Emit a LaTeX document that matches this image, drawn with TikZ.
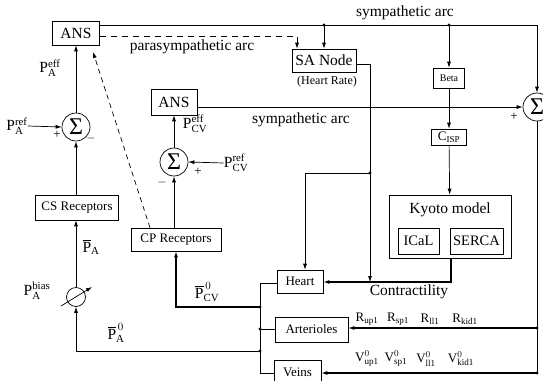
\documentclass[tikz,border=0pt]{standalone}
\usepackage{amsmath}
\usepackage{fontspec}
\setmainfont{Liberation Serif}
\usetikzlibrary{arrows.meta,calc}
\newcommand\rr[1]{\mathrm{#1}}
\newcommand\bigf{\fontsize{15.5}{18}\selectfont}
\newcommand\midf{\fontsize{13}{15}\selectfont}
\newcommand\smf{\fontsize{10}{12}\selectfont}
\tikzset{
  blk/.style={draw, line width=0.6pt, inner sep=0pt},
  sumn/.style={draw, circle, minimum size=28pt, inner sep=0pt, font=\fontsize{24}{24}\selectfont},
  lbl/.style={inner sep=0pt, font=\bigf},
  sgn/.style={inner sep=0pt, font=\midf},
}

\begin{document}
\begin{tikzpicture}[x=1pt, y=-1pt, >={Latex[length=6pt,width=4pt]}, line width=0.7pt]
    \useasboundingbox (0,0) rectangle (543,380);

    \coordinate (Ansp) at (76,33);
    \coordinate (SumAp) at (76,127);
    \coordinate (CSp) at (77,207.5);
    \coordinate (Biasp) at (76,297);
    \coordinate (AnsCp) at (174,102);
    \coordinate (SumCp) at (174,162);
    \coordinate (CPp) at (176,239.5);
    \coordinate (SANp) at (324,60.5);
    \coordinate (Betap) at (449,78);
    \coordinate (Cispp) at (449,137);
    \coordinate (Kyotop) at (450,226.5);
    \coordinate (Kyotot) at (450,210);
    \coordinate (ICaLp) at (418.5,241);
    \coordinate (SERCAp) at (476.5,241);
    \coordinate (SumRp) at (537,107);
    \coordinate (Heartp) at (300,281.5);
    \coordinate (Artp) at (311.5,329.5);
    \coordinate (Veinsp) at (297.5,372.5);

    \coordinate (SymR) at (537,25);
    \coordinate (Para) at (297,36);
    \coordinate (ParaT) at (93,52);
    \coordinate (ParaB) at (150,0);
    \coordinate (SanR) at (370,64);
    \coordinate (HeartJ) at (370,173);
    \coordinate (HeartT) at (305,173);
    \coordinate (Ctr) at (451,282);
    \coordinate (RJa) at (537,328);
    \coordinate (RJv) at (537,373);
    \coordinate (LwT) at (260,283);
    \coordinate (LwB) at (260,373);
    \coordinate (LJcv) at (260,307);
    \coordinate (LJart) at (260,329);
    \coordinate (LJa) at (260,351);

    \coordinate (Symt) at (405,13);
    \coordinate (Symm) at (301,120);
    \coordinate (Parat) at (192,47);
    \coordinate (HRt) at (327,82);
    \coordinate (Ctrt) at (409,292);
    \coordinate (PAeff) at (50,68);
    \coordinate (PAref) at (17,126);
    \coordinate (PAbar) at (91,247);
    \coordinate (PAbias) at (37,291);
    \coordinate (PAz) at (116,333);
    \coordinate (PCVz) at (207,292);
    \coordinate (PCVeff) at (195,124);
    \coordinate (PCVref) at (236,163);
    \coordinate (PlA) at (57,135);
    \coordinate (MiA) at (91,138);
    \coordinate (PlC) at (198,172);
    \coordinate (MiC) at (162,182);
    \coordinate (PlR) at (514,117);

    \node[blk, minimum width=47pt, minimum height=24pt, font=\bigf] (ans) at (Ansp) {ANS};
    \node[blk, minimum width=46pt, minimum height=26pt, font=\bigf] (ansc) at (AnsCp) {ANS};
    \node[blk, minimum width=64pt, minimum height=23pt, font=\bigf] (san) at (SANp) {SA Node};
    \node[blk, minimum width=31pt, minimum height=20pt, font=\smf] (beta) at (Betap) {Beta};
    \node[blk, minimum width=35pt, minimum height=16pt, font=\midf] (cisp) at (Cispp) {$\rr{C}_{\rr{ISP}}$};
    \node[blk, minimum width=122pt, minimum height=63pt] (kyoto) at (Kyotop) {};
    \node[font=\bigf] (kyotol) at (Kyotot) {Kyoto model};
    \node[blk, minimum width=41pt, minimum height=26pt, font=\fontsize{14.5}{16}\selectfont] (ical) at (ICaLp) {ICaL};
    \node[blk, minimum width=53pt, minimum height=26pt, font=\fontsize{14.5}{16}\selectfont] (serca) at (SERCAp) {SERCA};
    \node[blk, minimum width=83pt, minimum height=25pt, font=\midf] (cs) at (CSp) {CS Receptors};
    \node[blk, minimum width=90pt, minimum height=23pt, font=\midf] (cp) at (CPp) {CP Receptors};
    \node[blk, minimum width=46pt, minimum height=23pt, font=\midf] (heart) at (Heartp) {Heart};
    \node[blk, minimum width=73pt, minimum height=25pt, font=\midf] (art) at (Artp) {Arterioles};
    \node[blk, minimum width=47pt, minimum height=25pt, font=\midf] (veins) at (Veinsp) {Veins};
    \node[sumn] (suma) at (SumAp) {Σ};
    \node[sumn] (sumc) at (SumCp) {Σ};
    \node[sumn] (sumr) at (SumRp) {Σ};
    \node[draw, circle, minimum size=19pt, inner sep=0pt] (bias) at (Biasp) {};

    \node[font=\bigf] (symtl) at (Symt) {sympathetic arc};
    \node[font=\bigf] (symml) at (Symm) {sympathetic arc};
    \node[font=\bigf] (paral) at (Parat) {parasympathetic arc};
    \node[font=\fontsize{12}{14}\selectfont] (hrl) at (HRt) {(Heart Rate)};
    \node[font=\bigf] (ctrl) at (Ctrt) {Contractility};
    \node[lbl] (paeffl) at (PAeff) {$\rr{P}_{\rr{A}}^{\rr{eff}}$};
    \node[lbl] (parefl) at (PAref) {$\rr{P}_{\rr{A}}^{\rr{ref}}$};
    \node[lbl] (pabarl) at (PAbar) {$\overline{\rr{P}}_{\rr{A}}$};
    \node[lbl] (pabiasl) at (PAbias) {$\rr{P}_{\rr{A}}^{\rr{bias}}$};
    \node[lbl] (pazl) at (PAz) {$\overline{\rr{P}}_{\rr{A}}^{\,0}$};
    \node[lbl] (pcvzl) at (PCVz) {$\overline{\rr{P}}_{\rr{CV}}^{\,0}$};
    \node[lbl] (pcveffl) at (PCVeff) {$\rr{P}_{\rr{CV}}^{\rr{eff}}$};
    \node[lbl] (pcvrefl) at (PCVref) {$\rr{P}_{\rr{CV}}^{\rr{ref}}$};
    \node[sgn] (pla) at (PlA) {+};
    \node[sgn] (mia) at (MiA) {$-$};
    \node[sgn] (plc) at (PlC) {+};
    \node[sgn] (mic) at (MiC) {$-$};
    \node[sgn] (plr) at (PlR) {+};

    \node[lbl, font=\midf] (rup) at (367,319) {$\rr{R}_{\rr{up1}}$};
    \node[lbl, font=\midf] (rsp) at (398,319) {$\rr{R}_{\rr{sp1}}$};
    \node[lbl, font=\midf] (rll) at (430,319) {$\rr{R}_{\rr{ll1}}$};
    \node[lbl, font=\midf] (rkid) at (465,319) {$\rr{R}_{\rr{kid1}}$};
    \node[lbl, font=\midf] (vup) at (367,359) {$\rr{V}_{\rr{up1}}^{0}$};
    \node[lbl, font=\midf] (vsp) at (396,359) {$\rr{V}_{\rr{sp1}}^{0}$};
    \node[lbl, font=\midf] (vll) at (426,359) {$\rr{V}_{\rr{ll1}}^{0}$};
    \node[lbl, font=\midf] (vkid) at (461,359) {$\rr{V}_{\rr{kid1}}^{0}$};

    \draw[->] (ans.east |- SymR) -- (SymR) -- (sumr.north);
    \draw[->] (san.north |- SymR) -- (san.north);
    \draw[->] (beta.north |- SymR) -- (beta.north);
    \draw[->, dashed, dash pattern=on 6pt off 5pt] (ans.east |- Para) -- (Para) -- (Para |- san.north);
    \draw[->] (san.east |- SanR) -- (SanR) -- (SanR |- Ctr);
    \draw[->] (HeartJ) -- (HeartT) -- (HeartT |- heart.north);
    \draw[->] (beta) -- (cisp);
    \draw[->] (cisp) -- (kyoto);
    \draw[->, line width=1.2pt] (kyoto.south -| Ctr) -- (Ctr) -- (heart.east |- Ctr);
    \draw[->] (ansc.east |- sumr.west) -- (sumr.west);
    \draw (sumr.south) -- (RJv);
    \draw[->, line width=1.1pt] (RJa) -- (art.east |- RJa);
    \draw[->, line width=1.1pt] (RJv) -- (veins.east |- RJv);

    \draw (heart.west |- LwT) -- (LwT) -- (LwB) -- (veins.west |- LwB);
    \draw (LJart) -- (art.west |- LJart);
    \draw[->, line width=1.2pt] (LJcv) -- (cp.south |- LJcv) -- (cp.south);
    \draw[->] (LJa) -- (bias.south |- LJa) -- (bias.south);
    \draw[->] ($(bias)+(-15,9)$) -- ($(bias)+(16,-10)$);

    \draw[->] (bias.north) -- (cs.south -| bias);
    \draw[->] (cs.north -| suma) -- (suma.south);
    \draw[->] (suma.north) -- (ans.south -| suma);
    \draw[->] (parefl.east) -- (suma.west);
    \draw[->] (sumc.north) -- (ansc.south);
    \draw[->] (cp.north -| sumc) -- (sumc.south);
    \draw[->] (pcvrefl.west) -- (sumc.east);
    \draw[->, dashed, dash pattern=on 5pt off 4pt] (cp.north -| ParaB) -- (ParaT);

    \fill (san.north |- SymR) circle (1.7);
    \fill (beta.north |- SymR) circle (1.7);
    \fill (HeartJ) circle (1.7);
    \fill (RJa) circle (1.7);
    \fill (RJv) circle (1.7);
    \fill (LJcv) circle (1.7);
    \fill (LJart) circle (1.7);
    \fill (LJa) circle (1.7);
\end{tikzpicture}
\end{document}
